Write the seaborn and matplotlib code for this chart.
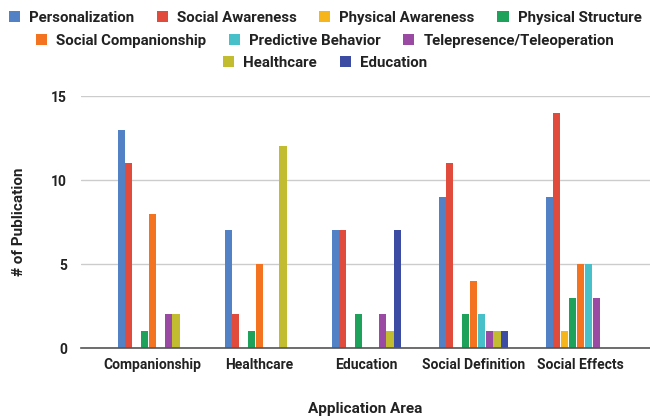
import pandas as pd
import numpy as np
import matplotlib.pyplot as plt
import seaborn as sns
from matplotlib.patches import Patch

# --- dados ---
areas = ['Companionship', 'Healthcare', 'Education', 'Social Definition', 'Social Effects']

personalization = [13, 7, 7, 9, 9]
social_awareness = [11, 2, 7, 11, 14]
physical_awareness = [0, 0, 0, 0, 1]
physical_structure = [1, 1, 2, 2, 3]
social_companionship = [8, 5, 0, 4, 5]
predictive_behavior = [0, 0, 0, 2, 5]
telepresence = [2, 0, 2, 1, 3]
healthcare = [2, 12, 1, 1, 0]
education = [0, 0, 7, 1, 0]

series_names = ['Personalization', 'Social Awareness', 'Physical Awareness', 'Physical Structure',
                'Social Companionship', 'Predictive Behavior', 'Telepresence/Teleoperation',
                'Healthcare', 'Education']
series_values = [personalization, social_awareness, physical_awareness, physical_structure,
                 social_companionship, predictive_behavior, telepresence, healthcare, education]

colors = ['#5381c6', '#e04b3c', '#f6b51b', '#1ea15a', '#f47321',
          '#48c0c9', '#9a4aa3', '#c2bc31', '#3d4ca3']

rows = []
for name, vals in zip(series_names, series_values):
    for area, v in zip(areas, vals):
        rows.append({'Area': area, 'Serie': name, 'Valor': v})
df = pd.DataFrame(rows)

sns.set_theme(style="white")
plt.rcParams['font.family'] = ['Roboto', 'DejaVu Sans']

fig = plt.figure(figsize=(6.5, 4.17), dpi=100)
ax = fig.add_axes([81 / 650, 69 / 417, 569 / 650, 252 / 417])

sns.barplot(data=df, x='Area', y='Valor', hue='Serie', hue_order=series_names,
            palette=colors, width=0.66, gap=0.1, ax=ax, legend=False,
            linewidth=0, saturation=1)

ax.set_xlim(-0.668, 4.65)
ax.set_ylim(0, 15)
ax.set_yticks([0, 5, 10, 15])
ax.yaxis.grid(True, color='#cccccc', linewidth=1)
ax.set_axisbelow(True)
for s in ['top', 'right', 'left']:
    ax.spines[s].set_visible(False)
ax.spines['bottom'].set_color('#555555')
ax.spines['bottom'].set_linewidth(1.2)
ax.tick_params(axis='both', length=0, labelsize=10, colors='#222222')
ax.tick_params(axis='y', pad=10)
ax.tick_params(axis='x', pad=7)
for lab in ax.get_xticklabels() + ax.get_yticklabels():
    lab.set_fontweight('bold')

ax.set_xlabel('Application Area', fontsize=11, fontweight='bold', color='#222222', labelpad=22)
ax.set_ylabel('# of Publication', fontsize=11, fontweight='bold', color='#222222', labelpad=18)

# legenda em três linhas centralizadas
handles = [Patch(facecolor=c, edgecolor='none') for c in colors]
linhas = [(0, 4, 0.958), (4, 7, 0.902), (7, 9, 0.849)]
for ini, fim, ypos in linhas:
    leg = fig.legend(handles[ini:fim], series_names[ini:fim], loc='center',
                     bbox_to_anchor=(0.5, ypos), ncol=fim - ini, frameon=False,
                     handlelength=0.75, handleheight=0.75, handletextpad=0.6,
                     columnspacing=1.5, prop={'weight': 'bold', 'size': 10.8})
    for t in leg.get_texts():
        t.set_color('#222222')

plt.savefig('out.png', dpi=100)
